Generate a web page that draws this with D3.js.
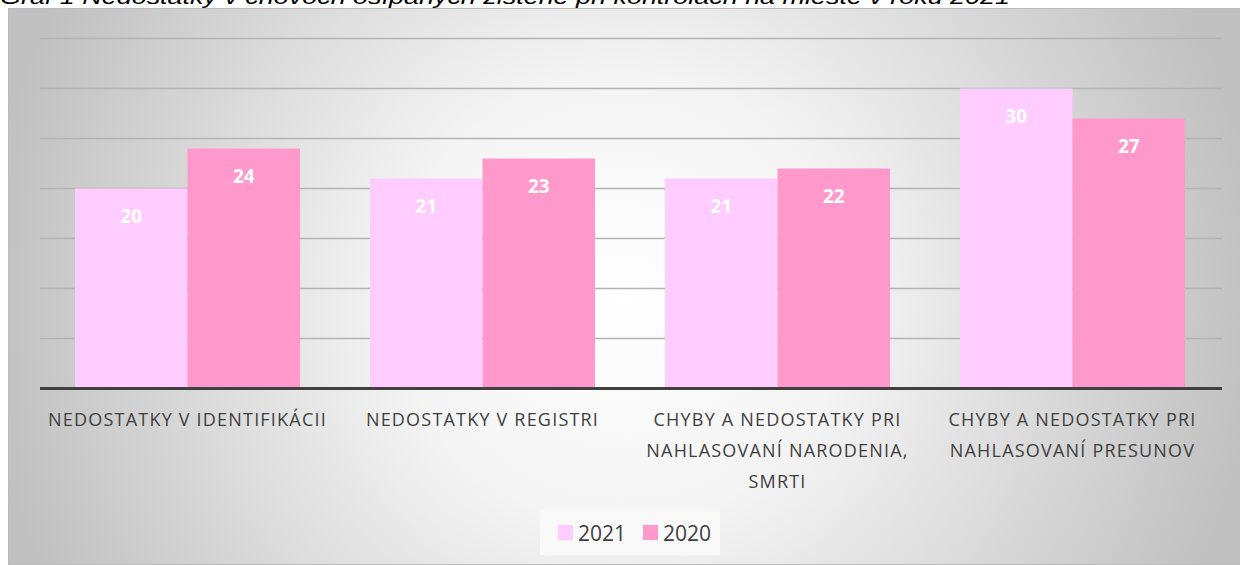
<!DOCTYPE html>
<html>
<head>
<meta charset="utf-8">
<script src="https://cdn.jsdelivr.net/npm/d3@7"></script>
<style>
  body { margin: 0; background: #fff; }
  svg { display: block; }
</style>
</head>
<body>
<div id="chart"></div>
<script>
const title = "Graf 1 Nedostatky v chovoch ošípaných zistené pri kontrolách na mieste v roku 2021";
const categories = [
    "NEDOSTATKY V IDENTIFIKÁCII",
    "NEDOSTATKY V REGISTRI",
    "CHYBY A NEDOSTATKY PRI NAHLASOVANÍ NARODENIA, SMRTI",
    "CHYBY A NEDOSTATKY PRI NAHLASOVANÍ PRESUNOV"
];
const seriesNames = ["2021", "2020"];
const values2021 = [20, 21, 21, 30];
const values2020 = [24, 23, 22, 27];
const yTicks = [0, 5, 10, 15, 20, 25, 30, 35];
const colors = ["#FFCCFF", "#FF99CC"];

const width = 1240;
const height = 565;

const svg = d3.select("#chart")
    .append("svg")
    .attr("width", width)
    .attr("height", height);

// background gradient
const defs = svg.append("defs");
const grad = defs.append("radialGradient")
    .attr("id", "bg")
    .attr("gradientUnits", "userSpaceOnUse")
    .attr("cx", 622).attr("cy", 300).attr("r", 640);
grad.append("stop").attr("offset", "0").attr("stop-color", "#ffffff");
grad.append("stop").attr("offset", "0.35").attr("stop-color", "#f4f4f4");
grad.append("stop").attr("offset", "1").attr("stop-color", "#c0c0c0");

svg.append("rect")
    .attr("x", 8.5).attr("y", 8.5)
    .attr("width", 1240).attr("height", 556)
    .attr("fill", "url(#bg)")
    .attr("stroke", "#bcbcbc")
    .attr("stroke-width", 1);

// title (cut off at top)
svg.append("text")
    .attr("x", 0).attr("y", 4)
    .attr("font-family", "Liberation Sans, Arial, sans-serif")
    .attr("font-style", "italic")
    .attr("font-size", 20)
    .attr("fill", "#000")
    .attr("textLength", 1010)
    .attr("lengthAdjust", "spacingAndGlyphs")
    .text(title);

const rows = categories.map((c, i) => ({cat: c, vals: [values2021[i], values2020[i]]}));

const x0 = d3.scaleBand()
    .domain(categories)
    .range([40, 1220])
    .paddingInner(0.237)
    .paddingOuter(0.1185);

const x1 = d3.scaleBand()
    .domain(seriesNames)
    .range([0, x0.bandwidth()]);

const y = d3.scaleLinear()
    .domain([0, 35])
    .range([388.5, 38.5]);

const color = d3.scaleOrdinal().domain(seriesNames).range(colors);

// gridlines
svg.append("g")
    .selectAll("line")
    .data(yTicks.filter(d => d > 0))
    .join("line")
    .attr("x1", 40).attr("x2", 1222)
    .attr("y1", d => y(d)).attr("y2", d => y(d))
    .attr("stroke", "#b4b4b4")
    .attr("stroke-width", 1.5);

// bars
const groups = svg.append("g")
    .selectAll("g")
    .data(rows)
    .join("g")
    .attr("transform", d => "translate(" + x0(d.cat) + ",0)");

groups.selectAll("rect")
    .data(d => d.vals.map((v, i) => ({key: seriesNames[i], value: v})))
    .join("rect")
    .attr("x", d => x1(d.key))
    .attr("y", d => y(d.value))
    .attr("width", x1.bandwidth())
    .attr("height", d => y(0) - y(d.value))
    .attr("fill", d => color(d.key));

groups.selectAll("text")
    .data(d => d.vals.map((v, i) => ({key: seriesNames[i], value: v})))
    .join("text")
    .attr("x", d => x1(d.key) + x1.bandwidth() / 2)
    .attr("y", d => y(d.value) + 34)
    .attr("text-anchor", "middle")
    .attr("font-family", "Open Sans, sans-serif")
    .attr("font-weight", "bold")
    .attr("font-size", 19)
    .attr("fill", "#ffffff")
    .text(d => d.value);

// axis line
svg.append("line")
    .attr("x1", 40).attr("x2", 1222)
    .attr("y1", y(0)).attr("y2", y(0))
    .attr("stroke", "#404040")
    .attr("stroke-width", 3);

// category labels with wrapping
svg.append("g")
    .selectAll("text")
    .data(categories)
    .join("text")
    .attr("x", d => x0(d) + x0.bandwidth() / 2)
    .attr("y", 426)
    .attr("text-anchor", "middle")
    .attr("font-family", "Open Sans, sans-serif")
    .attr("font-size", 18)
    .attr("letter-spacing", 1.2)
    .attr("fill", "#404040")
    .each(function (d) {
        const t = d3.select(this);
        const words = d.split(" ");
        const cx = x0(d) + x0.bandwidth() / 2;
        let line = [];
        let tspan = t.append("tspan").attr("x", cx).attr("dy", 0);
        words.forEach(w => {
            line.push(w);
            tspan.text(line.join(" "));
            if (tspan.node().getComputedTextLength() > 295 && line.length > 1) {
                line.pop();
                tspan.text(line.join(" "));
                line = [w];
                tspan = t.append("tspan").attr("x", cx).attr("dy", 31).text(w);
            }
        });
    });

// legend
const legend = svg.append("g");
legend.append("rect")
    .attr("x", 540).attr("y", 510)
    .attr("width", 180).attr("height", 45)
    .attr("fill", "#f9f9f9");
const legX = [558, 643];
seriesNames.forEach((s, i) => {
    legend.append("rect")
        .attr("x", legX[i]).attr("y", 525)
        .attr("width", 15).attr("height", 15)
        .attr("fill", color(s));
    legend.append("text")
        .attr("x", legX[i] + 20).attr("y", 541)
        .attr("font-family", "Open Sans, sans-serif")
        .attr("font-size", 21)
        .attr("fill", "#404040")
        .text(s);
});
</script>
</body>
</html>
